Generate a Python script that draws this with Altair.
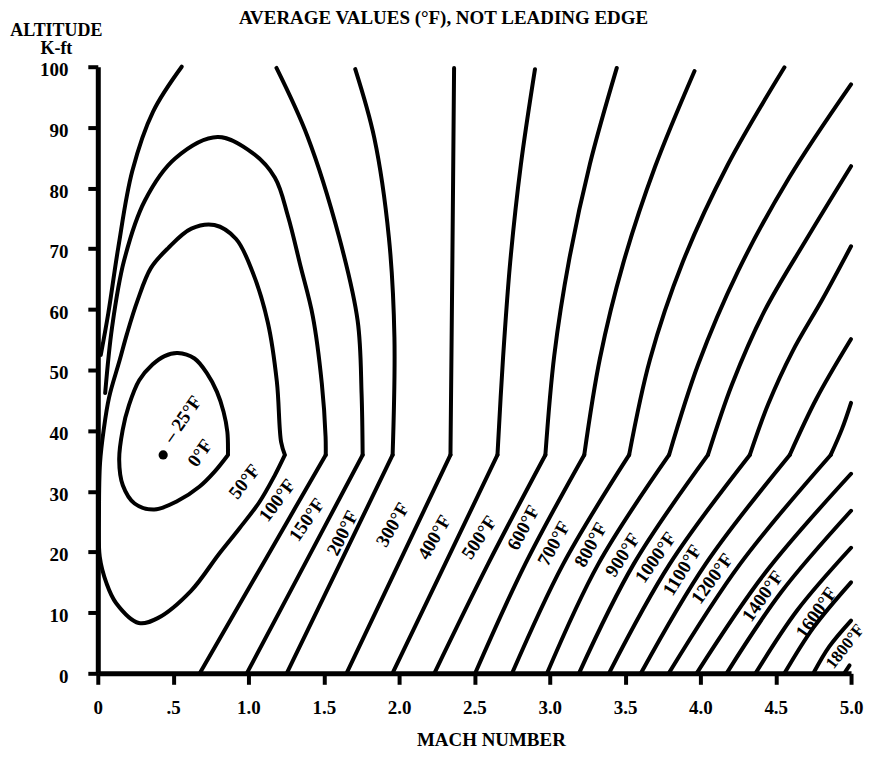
import altair as alt
import pandas as pd

FONT = "Liberation Serif"

# ---- contour lines: Mach number, altitude (K-ft) ----
# 0 deg F closed loop (starts/ends at the tropopause corner)
T0_M = [0.864, 0.777, 0.676, 0.529, 0.375, 0.244, 0.166, 0.142, 0.165, 0.207,
        0.275, 0.363, 0.443, 0.530, 0.642, 0.726, 0.791, 0.835, 0.860, 0.864]
T0_A = [36.0, 33.3, 30.8, 28.4, 27.0, 28.0, 31.0, 35.2, 40.1, 44.2,
        48.3, 50.9, 52.3, 52.8, 51.9, 49.4, 46.4, 43.1, 39.8, 36.0]

# 50 deg F loop (touches the altitude axis)
T50_M = [1.242, 1.174, 1.072, 0.937, 0.802, 0.619, 0.398, 0.272, 0.121, 0.057,
         0.013, 0.008, 0.015, 0.039, 0.075, 0.145, 0.194, 0.263, 0.352, 0.467,
         0.621, 0.774, 0.918, 1.028, 1.129, 1.189, 1.217, 1.242]
T50_A = [36.0, 32.6, 28.2, 23.8, 19.6, 13.6, 9.1, 8.3, 11.6, 14.9,
         19.2, 27.0, 34.7, 40.1, 45.5, 51.6, 56.0, 61.4, 66.8, 70.1,
         73.3, 73.9, 71.6, 66.1, 57.8, 48.0, 38.1, 36.0]

# 100 deg F
T100U_M = [0.049, 0.095, 0.174, 0.312, 0.515, 0.795, 1.026, 1.176, 1.262, 1.346,
           1.427, 1.487, 1.512, 1.513]
T100U_A = [46.2, 57.1, 68.0, 77.9, 84.9, 88.4, 85.8, 81.7, 75.4, 67.1,
           58.9, 47.8, 39.0, 36.0]
T100L_M = [1.513, 1.095, 0.677]
T100L_A = [36.0, 18.0, 0.0]

# 150 deg F
T150W_M = [0.557, 0.367, 0.229, 0.136, 0.070, 0.020]
T150W_A = [100.0, 92.6, 82.8, 70.2, 59.4, 52.5]
T150U_M = [1.186, 1.392, 1.601, 1.725, 1.751, 1.758]
T150U_A = [99.8, 88.5, 72.0, 58.1, 46.1, 36.0]
T150L_M = [1.758, 1.374, 0.989]
T150L_A = [36.0, 18.0, 0.0]

# 200 deg F
T200U_M = [1.709, 1.835, 1.932, 1.969, 1.957]
T200U_A = [99.6, 88.3, 71.9, 55.4, 36.0]
T200L_M = [1.957, 1.606, 1.254]
T200L_A = [36.0, 18.0, 0.0]

# 300 deg F
T300U_M = [2.365, 2.354, 2.341]
T300U_A = [99.8, 68.9, 36.0]
T300L_M = [2.341, 1.996, 1.651]
T300L_A = [36.0, 18.0, 0.0]

# 400 .. 800 deg F (upper parts reach the top edge)
T400U_M = [2.902, 2.808, 2.738, 2.690, 2.653]
T400U_A = [99.6, 83.8, 67.9, 52.0, 36.0]
T400L_M = [2.653, 2.305, 1.956]
T500U_M = [3.445, 3.267, 3.129, 3.030, 2.971]
T500U_A = [99.8, 84.0, 68.2, 52.4, 36.0]
T500L_M = [2.971, 2.590, 2.234]
T600U_M = [3.961, 3.699, 3.489, 3.333, 3.229]
T600U_A = [99.3, 83.5, 67.7, 51.9, 36.0]
T600L_M = [3.229, 2.837, 2.505]
T700U_M = [4.558, 4.181, 3.883, 3.665, 3.527]
T700U_A = [99.9, 83.8, 67.8, 51.7, 36.0]
T700L_M = [3.527, 3.089, 2.750]
T800U_M = [5.0, 4.589, 4.250, 3.985, 3.792]
T800U_A = [97.1, 81.7, 66.3, 50.9, 36.0]
T800L_M = [3.792, 3.322, 2.982]

# 900 .. 1200 deg F (upper parts reach the right edge)
T900U_M = [5.0, 4.705, 4.425, 4.211, 4.050]
T900U_A = [83.6, 71.6, 59.7, 47.7, 36.0]
T900L_M = [4.050, 3.557, 3.194]
T1000U_M = [5.0, 4.811, 4.610, 4.449, 4.328]
T1000U_A = [70.4, 61.7, 53.0, 44.3, 36.0]
T1000L_M = [4.328, 3.796, 3.393]
T1100U_M = [5.0, 4.771, 4.593]
T1100U_A = [55.1, 45.3, 36.0]
T1100L_M = [4.593, 4.034, 3.605]
T1200U_M = [5.0, 4.940, 4.865]
T1200U_A = [44.6, 40.3, 36.0]
T1200L_M = [4.865, 4.263, 3.790]
LOWER_A = [36.0, 18.0, 0.0]

# 1300 .. 1800 deg F (below the tropopause only)
T1300_M = [3.975, 4.428, 5.0]
T1300_A = [0.0, 16.5, 32.9]
T1400_M = [4.174, 4.537, 5.0]
T1400_A = [0.0, 13.4, 26.8]
T1500_M = [4.366, 4.643, 5.0]
T1500_A = [0.0, 10.4, 20.7]
T1600_M = [4.558, 4.749, 5.0]
T1600_A = [0.0, 7.5, 15.0]
T1700_M = [4.750, 4.855, 5.0]
T1700_A = [0.0, 4.4, 8.7]
T1800_M = [4.955, 4.990]
T1800_A = [0.0, 1.3]

# -25 deg F point
DOT_M = [0.434]
DOT_A = [36.0]

# contour labels
LABEL_TEXT = ["\u2013 25\u00b0F", "0\u00b0F", "50\u00b0F", "100\u00b0F", "150\u00b0F",
              "200\u00b0F", "300\u00b0F", "400\u00b0F", "500\u00b0F", "600\u00b0F",
              "700\u00b0F", "800\u00b0F", "900\u00b0F", "1000\u00b0F", "1100\u00b0F",
              "1200\u00b0F", "1400\u00b0F", "1600\u00b0F", "1800\u00b0F"]
LABEL_M = [0.563, 0.679, 0.974, 1.191, 1.388, 1.625, 1.957, 2.234, 2.532, 2.825,
           3.028, 3.273, 3.484, 3.703, 3.880, 4.078, 4.414, 4.770, 4.962]
LABEL_A = [41.9, 36.3, 31.6, 28.5, 25.3, 23.1, 24.5, 22.4, 22.4, 24.0,
           21.4, 21.2, 19.5, 19.1, 17.0, 15.6, 12.7, 10.0, 4.4]
LABEL_TILT = [55, 55, 52, 53, 55, 63, 60, 60, 56, 62, 61, 61, 57, 55, 58, 54, 55, 55, 52]
LABEL_SIZE = [19] * 18 + [17]

X_TICKS = [0, 0.5, 1.0, 1.5, 2.0, 2.5, 3.0, 3.5, 4.0, 4.5, 5.0]
Y_TICKS = [0, 10, 20, 30, 40, 50, 60, 70, 80, 90, 100]

SEGMENTS = [
    ("t0", T0_M, T0_A), ("t50", T50_M, T50_A),
    ("t100u", T100U_M, T100U_A), ("t100l", T100L_M, T100L_A),
    ("t150w", T150W_M, T150W_A), ("t150u", T150U_M, T150U_A), ("t150l", T150L_M, T150L_A),
    ("t200u", T200U_M, T200U_A), ("t200l", T200L_M, T200L_A),
    ("t300u", T300U_M, T300U_A), ("t300l", T300L_M, T300L_A),
    ("t400u", T400U_M, T400U_A), ("t400l", T400L_M, LOWER_A),
    ("t500u", T500U_M, T500U_A), ("t500l", T500L_M, LOWER_A),
    ("t600u", T600U_M, T600U_A), ("t600l", T600L_M, LOWER_A),
    ("t700u", T700U_M, T700U_A), ("t700l", T700L_M, LOWER_A),
    ("t800u", T800U_M, T800U_A), ("t800l", T800L_M, LOWER_A),
    ("t900u", T900U_M, T900U_A), ("t900l", T900L_M, LOWER_A),
    ("t1000u", T1000U_M, T1000U_A), ("t1000l", T1000L_M, LOWER_A),
    ("t1100u", T1100U_M, T1100U_A), ("t1100l", T1100L_M, LOWER_A),
    ("t1200u", T1200U_M, T1200U_A), ("t1200l", T1200L_M, LOWER_A),
    ("t1300", T1300_M, T1300_A), ("t1400", T1400_M, T1400_A),
    ("t1500", T1500_M, T1500_A), ("t1600", T1600_M, T1600_A),
    ("t1700", T1700_M, T1700_A), ("t1800", T1800_M, T1800_A),
]

rows = []
for name, ms, alts in SEGMENTS:
    for i, (m, a) in enumerate(zip(ms, alts)):
        rows.append({"seg": name, "i": i, "mach": m, "alt": a})
lines_df = pd.DataFrame(rows)

labels_df = pd.DataFrame({
    "text": LABEL_TEXT, "mach": LABEL_M, "alt": LABEL_A,
    "angle": [360 - t for t in LABEL_TILT], "fsize": LABEL_SIZE,
})
dot_df = pd.DataFrame({"mach": DOT_M, "alt": DOT_A})

common_axis = dict(
    grid=False, domainColor="black", domainWidth=5, tickColor="black", tickWidth=4,
    labelFont=FONT, labelFontWeight="bold", labelFontSize=19, labelColor="black",
    titleFont=FONT, titleFontWeight="bold", titleColor="black",
)

x_enc = alt.X(
    "mach:Q",
    scale=alt.Scale(domain=[0, 5], nice=False, zero=False),
    axis=alt.Axis(
        values=X_TICKS,
        labelExpr="datum.value == 0 ? '0' : (datum.value == 0.5 ? '.5' : format(datum.value, '.1f'))",
        tickSize=11, labelPadding=14, labelFlush=False, labelOverlap=False,
        title="MACH NUMBER", titleX=394, titleY=72, titleAlign="center",
        titleBaseline="alphabetic", titleFontSize=19,
        **common_axis,
    ),
)
y_enc = alt.Y(
    "alt:Q",
    scale=alt.Scale(domain=[0, 100], nice=False),
    axis=alt.Axis(
        values=Y_TICKS, tickSize=10, labelPadding=20, labelOffset=3,
        labelFlush=False, labelOverlap=False,
        title=["ALTITUDE", "K-ft"], titleAngle=0, titleX=-42, titleY=-31,
        titleAlign="center", titleBaseline="alphabetic", titleLineHeight=18,
        titleFontSize=18,
        **common_axis,
    ),
)

lines = alt.Chart(lines_df).mark_line(
    color="black", strokeWidth=4, interpolate="catmull-rom",
    strokeCap="round", strokeJoin="round", clip=False,
).encode(x=x_enc, y=y_enc, detail="seg:N", order="i:Q")

dot = alt.Chart(dot_df).mark_point(
    filled=True, size=85, color="black", opacity=1
).encode(x=x_enc, y=y_enc)

labels = alt.Chart(labels_df).mark_text(
    font=FONT, fontWeight="bold", color="black",
    align="center", baseline="middle",
).encode(
    x=x_enc, y=y_enc, text="text:N",
    angle=alt.Angle("angle:Q", scale=None),
    size=alt.Size("fsize:Q", scale=None, legend=None),
)

chart = alt.layer(lines, dot, labels).properties(
    width=755, height=608,
    title=alt.TitleParams(
        text="AVERAGE VALUES (\u00b0F), NOT LEADING EDGE",
        font=FONT, fontSize=19, fontWeight="bold", color="black",
        anchor="middle", frame="group", dx=-31, dy=10, offset=4,
    ),
    autosize=alt.AutoSizeParams(type="none"),
    padding={"left": 90, "top": 58, "right": 20, "bottom": 76},
    background="white",
).configure_view(stroke=None)

chart.save("out.html", embed_options={"renderer": "svg", "actions": False})
